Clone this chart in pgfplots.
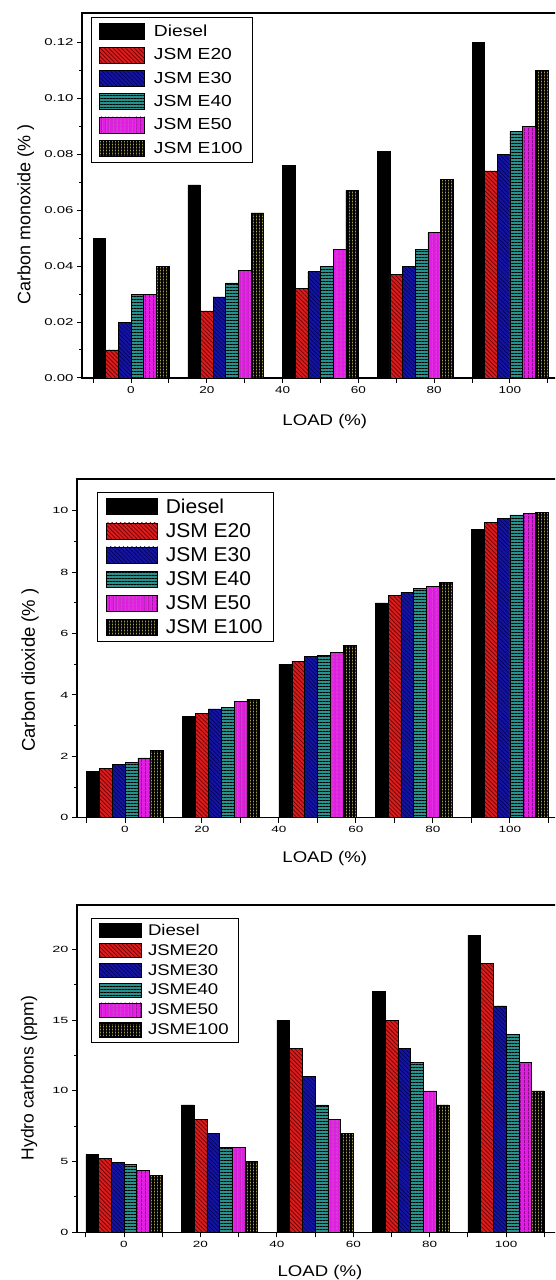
\documentclass[border=0pt]{standalone}
\usepackage{pgfplots}
\pgfplotsset{compat=1.18}
\usepackage{pgfplotstable}
\usepackage{fontspec}
\setmainfont{Liberation Sans}
\usetikzlibrary{patterns.meta}

\definecolor{cRed}{RGB}{215,30,30}
\definecolor{cRedD}{RGB}{110,0,0}
\definecolor{cBlue}{RGB}{20,20,160}
\definecolor{cBlueD}{RGB}{0,0,80}
\definecolor{cTeal}{RGB}{40,145,140}
\definecolor{cMag}{RGB}{225,30,225}
\definecolor{cMagD}{RGB}{90,0,90}
\definecolor{cOli}{RGB}{165,155,70}

\newcommand{\sx}[2]{\scalebox{#1}[1]{#2}}

\pgfplotstableread{
x D E20 E30 E40 E50 E100
0 0.050 0.010 0.020 0.030 0.030 0.040
25 0.069 0.024 0.029 0.034 0.0385 0.059
50 0.076 0.032 0.038 0.040 0.046 0.067
75 0.081 0.037 0.040 0.046 0.052 0.071
100 0.120 0.074 0.080 0.088 0.090 0.110
}\tabCO

\pgfplotstableread{
x D E20 E30 E40 E50 E100
0 1.5 1.6 1.75 1.8 1.95 2.2
25 3.3 3.4 3.55 3.6 3.78 3.86
50 5.0 5.1 5.25 5.3 5.4 5.62
75 7.0 7.24 7.35 7.48 7.55 7.66
100 9.4 9.62 9.76 9.87 9.92 9.96
}\tabCOtwo

\pgfplotstableread{
x D E20 E30 E40 E50 E100
0 5.5 5.25 4.95 4.8 4.4 4.0
25 9 8 7 6 6 5
50 15 13 11 9 8 7
75 17 15 13 12 10 9
100 21 19 16 14 12 10
}\tabHC

\pgfplotsset{
  barbase/.style={
    scale only axis, ybar, bar width=3.3333,
    axis line style={line width=1.2pt},
    tick align=outside, tick pos=left,
    major tick length=5pt, minor tick length=3pt,
    tick style={black, line width=1pt},
    xtick={-10,0,...,110},
    minor y tick num=1,
    ymin=0,
    legend cell align=left,
  },
  sD/.style={draw=black, line width=0.5pt, fill=black, bar shift=-8.3333},
  s20/.style={draw=black, line width=0.5pt, preaction={fill=cRed}, pattern={Lines[angle=-45,distance=3pt,line width=0.7pt]}, pattern color=cRedD, bar shift=-5},
  s30/.style={draw=black, line width=0.5pt, preaction={fill=cBlue}, pattern={Lines[angle=-45,distance=3pt,line width=0.5pt]}, pattern color=cBlueD, bar shift=-1.6667},
  s40/.style={draw=black, line width=0.5pt, preaction={fill=cTeal}, pattern={Lines[angle=0,distance=3pt,line width=0.8pt]}, pattern color=black, bar shift=1.6667},
  s50/.style={draw=black, line width=0.5pt, preaction={fill=cMag}, pattern={Lines[angle=90,distance=4pt,line width=0.8pt]}, pattern color=cMagD, bar shift=5},
  s100/.style={draw=black, line width=0.5pt, preaction={fill=cOli}, pattern={Hatch[angle=0,distance=3pt,line width=1.7pt]}, pattern color=black, bar shift=8.3333},
}

\begin{document}
\begin{tikzpicture}
\useasboundingbox (0,0) rectangle (555pt,1280pt);
\clip (0,0) rectangle (555pt,1280pt);

% ---------- Chart 1: CO ----------
\begin{axis}[barbase,
  at={(82pt,902pt)}, anchor=south west,
  width=478pt, height=365pt,
  xmin=-12.93, xmax=113.2, ymax=0.1304,
  ytick={0,0.02,0.04,0.06,0.08,0.10,0.12},
  yticklabels={\sx{1.5}{0.00},\sx{1.5}{0.02},\sx{1.5}{0.04},\sx{1.5}{0.06},\sx{1.5}{0.08},\sx{1.5}{0.10},\sx{1.5}{0.12}},
  xticklabels={,\sx{1.35}{0},,\sx{1.35}{20},,\sx{1.35}{40},,\sx{1.35}{60},,\sx{1.35}{80},,\sx{1.35}{100},},
  tick label style={font=\fontsize{10}{12}\selectfont},
  xlabel={\sx{1.2}{LOAD (\%)}},
  xlabel style={font=\fontsize{15.5}{18}\selectfont, at={(axis description cs:0.508,-0.1205)}, anchor=center},
  ylabel={Carbon monoxide (\% )},
  ylabel style={font=\fontsize{18}{21}\selectfont, at={(axis description cs:-0.118,0.449)}, anchor=center},
  legend style={at={(axis description cs:0.0188,0.989)}, anchor=north west, draw=black, line width=0.8pt,
    font=\fontsize{16}{19}\selectfont, inner xsep=8pt, inner ysep=6pt, row sep=6.7pt, column sep=7pt,
    nodes={inner ysep=0pt}},
  legend image code/.code={\draw[#1, line width=0.6pt] (0pt,-8pt) rectangle (45pt,8pt);},
]
\addplot[sD] table[x=x,y=D] {\tabCO};
\addplot[s20] table[x=x,y=E20] {\tabCO};
\addplot[s30] table[x=x,y=E30] {\tabCO};
\addplot[s40] table[x=x,y=E40] {\tabCO};
\addplot[s50] table[x=x,y=E50] {\tabCO};
\addplot[s100] table[x=x,y=E100] {\tabCO};
\legend{\sx{1.2}{Diesel},\sx{1.2}{JSM E20},\sx{1.2}{JSM E30},\sx{1.2}{JSM E40},\sx{1.2}{JSM E50},\sx{1.2}{JSM E100}}
\end{axis}

% ---------- Chart 2: CO2 ----------
\begin{axis}[barbase,
  at={(77pt,462.3pt)}, anchor=south west,
  width=483pt, height=338.7pt,
  xmin=-12.47, xmax=113.0, ymax=11.04,
  ytick={0,2,4,6,8,10},
  yticklabels={\sx{1.6}{0},\sx{1.6}{2},\sx{1.6}{4},\sx{1.6}{6},\sx{1.6}{8},\sx{1.6}{10}},
  xticklabels={,\sx{1.5}{0},,\sx{1.5}{20},,\sx{1.5}{40},,\sx{1.5}{60},,\sx{1.5}{80},,\sx{1.5}{100},},
  tick label style={font=\fontsize{9}{11}\selectfont},
  xlabel={\sx{1.2}{LOAD (\%)}},
  xlabel style={font=\fontsize{15.5}{18}\selectfont, at={(axis description cs:0.513,-0.119)}, anchor=center},
  ylabel={Carbon dioxide (\% )},
  ylabel style={font=\fontsize{18.5}{21}\selectfont, at={(axis description cs:-0.097,0.436)}, anchor=center},
  legend style={at={(axis description cs:0.041,0.9616)}, anchor=north west, draw=black, line width=0.8pt,
    font=\fontsize{20}{23}\selectfont, inner xsep=9pt, inner ysep=6pt, row sep=7.5pt, column sep=6pt,
    nodes={inner ysep=0pt}},
  legend image code/.code={\draw[#1, line width=0.6pt] (0pt,-8pt) rectangle (51pt,8pt);},
]
\addplot[sD] table[x=x,y=D] {\tabCOtwo};
\addplot[s20] table[x=x,y=E20] {\tabCOtwo};
\addplot[s30] table[x=x,y=E30] {\tabCOtwo};
\addplot[s40] table[x=x,y=E40] {\tabCOtwo};
\addplot[s50] table[x=x,y=E50] {\tabCOtwo};
\addplot[s100] table[x=x,y=E100] {\tabCOtwo};
\legend{\sx{1.05}{Diesel},\sx{1.05}{JSM E20},\sx{1.05}{JSM E30},\sx{1.05}{JSM E40},\sx{1.05}{JSM E50},\sx{1.05}{JSM E100}}
\end{axis}

% ---------- Chart 3: HC ----------
\begin{axis}[barbase,
  at={(77pt,47.7pt)}, anchor=south west,
  width=483pt, height=327.3pt,
  xmin=-12.3, xmax=114.1, ymax=23.13,
  ytick={0,5,10,15,20},
  yticklabels={\sx{1.6}{0},\sx{1.6}{5},\sx{1.6}{10},\sx{1.6}{15},\sx{1.6}{20}},
  xticklabels={,\sx{1.5}{0},,\sx{1.5}{20},,\sx{1.5}{40},,\sx{1.5}{60},,\sx{1.5}{80},,\sx{1.5}{100},},
  tick label style={font=\fontsize{9}{11}\selectfont},
  xlabel={\sx{1.2}{LOAD (\%)}},
  xlabel style={font=\fontsize{15.5}{18}\selectfont, at={(axis description cs:0.503,-0.124)}, anchor=center},
  ylabel={Hydro carbons (ppm)},
  ylabel style={font=\fontsize{17.5}{20}\selectfont, at={(axis description cs:-0.099,0.471)}, anchor=center},
  legend style={at={(axis description cs:0.029,0.960)}, anchor=north west, draw=black, line width=0.8pt,
    font=\fontsize{15.5}{18}\selectfont, inner xsep=8pt, inner ysep=5pt, row sep=5.2pt, column sep=4pt,
    nodes={inner ysep=0pt}},
  legend image code/.code={\draw[#1, line width=0.6pt] (0pt,-7pt) rectangle (42pt,7pt);},
]
\addplot[sD] table[x=x,y=D] {\tabHC};
\addplot[s20] table[x=x,y=E20] {\tabHC};
\addplot[s30] table[x=x,y=E30] {\tabHC};
\addplot[s40] table[x=x,y=E40] {\tabHC};
\addplot[s50] table[x=x,y=E50] {\tabHC};
\addplot[s100] table[x=x,y=E100] {\tabHC};
\legend{\sx{1.2}{Diesel},\sx{1.2}{JSME20},\sx{1.2}{JSME30},\sx{1.2}{JSME40},\sx{1.2}{JSME50},\sx{1.2}{JSME100}}
\end{axis}
\end{tikzpicture}
\end{document}
